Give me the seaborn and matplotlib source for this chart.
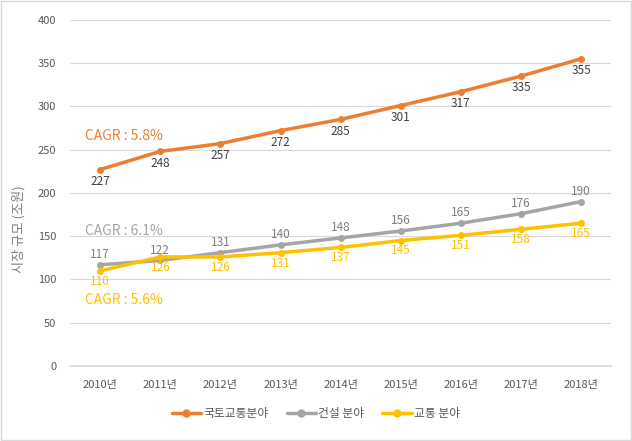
import matplotlib
matplotlib.use("Agg")
import matplotlib.pyplot as plt
import seaborn as sns
import pandas as pd

# data (unit: 조원)
years = ["2010년", "2011년", "2012년", "2013년", "2014년", "2015년", "2016년", "2017년", "2018년"]
land_transport = [227, 248, 257, 272, 285, 301, 317, 335, 355]
construction = [117, 122, 131, 140, 148, 156, 165, 176, 190]
transport = [110, 126, 126, 131, 137, 145, 151, 158, 165]

series_names = ["국토교통분야", "건설 분야", "교통 분야"]
series_values = [land_transport, construction, transport]
colors = ["#ED7D31", "#A5A5A5", "#FFC000"]
label_colors = ["#404040", "#7F7F7F", "#FFC000"]
label_offsets = [-8.5, 7.5, -7.5]
cagr_texts = ["CAGR : 5.8%", "CAGR : 6.1%", "CAGR : 5.6%"]
cagr_y = [266, 156, 76]

sns.set_theme(style="white")
plt.rcParams["font.family"] = ["Noto Sans CJK KR", "DejaVu Sans"]

rows = []
for name, vals in zip(series_names, series_values):
    for i, v in enumerate(vals):
        rows.append({"year": i, "value": v, "series": name})
df = pd.DataFrame(rows)

fig = plt.figure(figsize=(6.32, 4.41), dpi=100)
ax = fig.add_axes([0.111, 0.170, 0.856, 0.785])

sns.lineplot(data=df, x="year", y="value", hue="series", palette=colors,
             marker="o", markersize=5, markeredgewidth=0, linewidth=2.5,
             ax=ax, legend=False)

for name, vals, lc, off in zip(series_names, series_values, label_colors, label_offsets):
    for i, v in enumerate(vals):
        ax.annotate(str(v), (i, v), xytext=(0, off), textcoords="offset points",
                    ha="center", va="center", fontsize=8.5, color=lc)

for txt, y, c in zip(cagr_texts, cagr_y, colors):
    ax.text(-0.25, y, txt, color=c, fontsize=10, ha="left", va="center")

ax.set_xlim(-0.5, 8.5)
ax.set_ylim(0, 400)
ax.set_yticks(range(0, 401, 50))
ax.set_xticks(range(len(years)))
ax.set_xticklabels(years)
ax.tick_params(axis="both", labelsize=8, colors="#595959", length=0, pad=10)
ax.yaxis.grid(True, color="#D9D9D9", linewidth=0.8)
ax.set_axisbelow(True)
for s in ax.spines.values():
    s.set_visible(False)
ax.spines["bottom"].set_visible(True)
ax.spines["bottom"].set_color("#D9D9D9")
ax.set_xlabel("")
ax.set_ylabel("시장 규모 (조원)", fontsize=9.5, color="#7F7F7F")
ax.yaxis.set_label_coords(-0.082, 0.396)

handles = [plt.Line2D([0], [0], color=c, marker="o", markersize=5, linewidth=2.5)
           for c in colors]
fig.legend(handles, series_names, loc="center", bbox_to_anchor=(0.5, 0.063),
           ncol=3, frameon=False, fontsize=8.5, handlelength=2.5, columnspacing=1.5,
           handletextpad=0.2, labelcolor="#595959")

fig.patches.append(plt.Rectangle((0.002, 0.002), 0.996, 0.996, transform=fig.transFigure,
                                 fill=False, edgecolor="#D9D9D9", linewidth=1))

fig.savefig("out.png", dpi=100)
